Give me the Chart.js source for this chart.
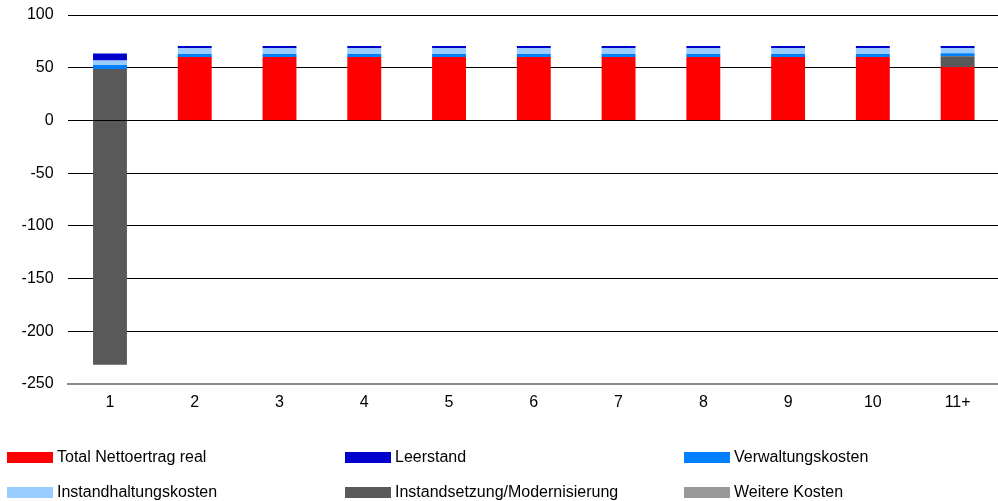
<!DOCTYPE html>
<html lang="de">
<head>
<meta charset="utf-8">
<title>Nettoertrag und Kosten</title>
<script src="https://cdn.jsdelivr.net/npm/chart.js@4.4.1/dist/chart.umd.min.js"></script>
<style>
  html, body { margin: 0; padding: 0; background: #fff; overflow: hidden; width: 998px; height: 501px; }
  #wrap { position: absolute; left: 0; top: 0; width: 1000px; height: 420px; }
  #legend { position: absolute; left: 0; top: 0; width: 998px; height: 501px; pointer-events: none;
            font-family: "Liberation Sans", Arial, sans-serif; font-size: 16px; color: #000; }
  .item { position: absolute; height: 20px; line-height: 20px; white-space: nowrap; }
  .swatch { position: absolute; left: 0; top: 4px; width: 46px; height: 11px; }
  .label { position: absolute; left: 50px; top: -1px; }
</style>
</head>
<body>
<div id="wrap"><canvas id="chart" width="1000" height="420"></canvas></div>
<div id="legend"></div>
<script>
// Jahre
const categories = ['1', '2', '3', '4', '5', '6', '7', '8', '9', '10', '11+'];

// Werte je Jahr
const nettoertragReal      = [0, 60.1, 60.1, 60.1, 60.1, 60.1, 60.1, 60.1, 60.1, 60.1, 50.6];
const instandsetzung       = [48.8, 0, 0, 0, 0, 0, 0, 0, 0, 0, 10.2];
const instandsetzungMinus  = [-231.8, 0, 0, 0, 0, 0, 0, 0, 0, 0, 0];
const verwaltungskosten    = [3.8, 2.9, 2.9, 2.9, 2.9, 2.9, 2.9, 2.9, 2.9, 2.9, 3.0];
const instandhaltungskosten= [4.2, 5.8, 5.8, 5.8, 5.8, 5.8, 5.8, 5.8, 5.8, 5.8, 5.0];
const leerstand            = [6.6, 1.7, 1.7, 1.7, 1.7, 1.7, 1.7, 1.7, 1.7, 1.7, 1.7];
const weitereKosten        = [0, 0, 0, 0, 0, 0, 0, 0, 0, 0, 0];

// Achse
const yTicks = [100, 50, 0, -50, -100, -150, -200, -250];

const FONT = { family: '"Liberation Sans", Arial, sans-serif', size: 16 };

const datasets = [
  { key: 'netto',  label: 'Total Nettoertrag real',          data: nettoertragReal,       backgroundColor: '#FF0000' },
  { key: 'instS',  label: 'Instandsetzung/Modernisierung',   data: instandsetzung,        backgroundColor: '#595959' },
  { key: 'instS2', label: 'Instandsetzung/Modernisierung',   data: instandsetzungMinus,   backgroundColor: '#595959', hideInLegend: true },
  { key: 'verw',   label: 'Verwaltungskosten',               data: verwaltungskosten,     backgroundColor: '#0080FF' },
  { key: 'instH',  label: 'Instandhaltungskosten',           data: instandhaltungskosten, backgroundColor: '#99CCFF' },
  { key: 'leer',   label: 'Leerstand',                       data: leerstand,             backgroundColor: '#0000CC' },
  { key: 'weit',   label: 'Weitere Kosten',                  data: weitereKosten,         backgroundColor: '#999999' }
].map(d => Object.assign(d, { borderWidth: 0, barPercentage: 0.4, categoryPercentage: 1.0 }));

const chart = new Chart(document.getElementById('chart'), {
  type: 'bar',
  data: { labels: categories, datasets },
  options: {
    responsive: false,
    animation: false,
    devicePixelRatio: 1,
    layout: { padding: { top: 15, right: 0, left: 0, bottom: 0 } },
    plugins: { legend: { display: false }, tooltip: { enabled: false } },
    scales: {
      x: {
        stacked: true,
        grid: { display: false, drawTicks: false },
        border: { display: true, color: '#8C8C8C', width: 2 },
        ticks: { color: '#000', font: FONT, padding: 9, maxRotation: 0, autoSkip: false },
        afterFit: s => { s.height = 420 - 384; }
      },
      y: {
        stacked: true,
        min: Math.min(...yTicks),
        max: Math.max(...yTicks),
        afterBuildTicks: s => { s.ticks = yTicks.map(v => ({ value: v })); },
        grid: {
          drawTicks: false,
          color: c => (c.tick && c.tick.value === Math.min(...yTicks)) ? 'rgba(0,0,0,0)' : '#000',
          lineWidth: 1
        },
        border: { display: false },
        ticks: { color: '#000', font: FONT, padding: 14 },
        afterFit: s => { s.width = 67.6; s.paddingTop = 0; s.paddingBottom = 0; }
      }
    }
  }
});

// Legende in drei Spalten
const legendOrder = ['netto', 'leer', 'verw', 'instH', 'instS', 'weit'];
const colX = [7, 345, 684];
const rowY = [448, 483];
const legend = document.getElementById('legend');
legendOrder.forEach((key, i) => {
  const ds = chart.data.datasets.find(d => d.key === key && !d.hideInLegend);
  const item = document.createElement('div');
  item.className = 'item';
  item.style.left = colX[i % 3] + 'px';
  item.style.top = rowY[Math.floor(i / 3)] + 'px';
  const sw = document.createElement('div');
  sw.className = 'swatch';
  sw.style.background = ds.backgroundColor;
  const lb = document.createElement('div');
  lb.className = 'label';
  lb.textContent = ds.label;
  item.appendChild(sw);
  item.appendChild(lb);
  legend.appendChild(item);
});
</script>
</body>
</html>
